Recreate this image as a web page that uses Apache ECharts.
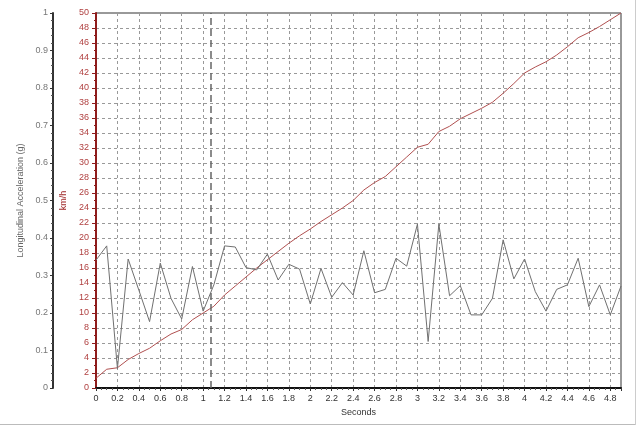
<!DOCTYPE html>
<html>
<head>
<meta charset="utf-8">
<script src="https://cdn.jsdelivr.net/npm/echarts@6/dist/echarts.min.js"></script>
<style>html,body{margin:0;padding:0;background:#fff}#c{width:640px;height:426px}</style>
</head>
<body>
<div id="c"></div>
<script>
var times = [0,0.1,0.2,0.3,0.4,0.5,0.6,0.7,0.8,0.9,1.0,1.1,1.2,1.3,1.4,1.5,1.6,1.7,1.8,1.9,2.0,2.1,2.2,2.3,2.4,2.5,2.6,2.7,2.8,2.9,3.0,3.1,3.2,3.3,3.4,3.5,3.6,3.7,3.8,3.9,4.0,4.1,4.2,4.3,4.4,4.5,4.6,4.7,4.8,4.9];
var accelG = [0.341,0.379,0.052,0.344,0.261,0.177,0.333,0.239,0.184,0.324,
              0.205,0.275,0.379,0.376,0.321,0.315,0.357,0.288,0.330,0.317,
              0.224,0.319,0.242,0.281,0.248,0.366,0.254,0.263,0.346,0.325,
              0.437,0.124,0.437,0.246,0.273,0.195,0.195,0.239,0.395,0.291,
              0.344,0.257,0.205,0.263,0.275,0.346,0.217,0.275,0.195,0.272];
var speedKmh = [1.3,2.5,2.7,3.8,4.6,5.3,6.3,7.2,7.8,9.1,
                10.0,10.9,12.4,13.6,14.8,16.0,17.1,18.2,19.3,20.3,
                21.2,22.2,23.1,24.0,25.0,26.4,27.4,28.2,29.5,30.8,
                32.1,32.5,34.2,34.9,35.9,36.6,37.3,38.1,39.3,40.6,
                42.0,42.8,43.5,44.4,45.5,46.7,47.4,48.2,49.1,50.0];
var markerTime = [1.07];

var font = 'Liberation Sans';
var chart = echarts.init(document.getElementById('c'), null, {renderer: 'canvas'});
chart.setOption({
  animation: false,
  backgroundColor: '#fff',
  textStyle: {fontFamily: font},
  grid: {left: 96, top: 13, right: 19, bottom: 38, show: true, borderColor: '#333', borderWidth: 1, backgroundColor: 'transparent'},
  graphic: [
    {type: 'line', shape: {x1: 0, y1: 424.5, x2: 636, y2: 424.5}, style: {stroke: '#bbb', lineWidth: 1}, silent: true},
    {type: 'line', shape: {x1: 635.5, y1: 0, x2: 635.5, y2: 425}, style: {stroke: '#ccc', lineWidth: 1}, silent: true}
  ],
  xAxis: {
    type: 'value', min: 0, max: 4.9, interval: 0.2,
    name: 'Seconds', nameLocation: 'middle', nameGap: 17,
    nameTextStyle: {color: '#333', fontSize: 9, fontFamily: font},
    axisLine: {show: true, onZero: false, lineStyle: {color: '#111', width: 2}},
    axisTick: {show: true, length: 3, lineStyle: {color: '#333'}},
    minorTick: {show: true, splitNumber: 4, length: 2, lineStyle: {color: '#555'}},
    axisLabel: {color: '#333', fontSize: 9, margin: 6, fontFamily: font, showMaxLabel: false,
      formatter: function (v) { var r = Math.round(v * 10) / 10; return (Math.round(r * 10) % 2 === 0) ? String(r) : ''; }},
    splitLine: {show: true, lineStyle: {color: '#999', type: [3, 3], width: 1}}
  },
  yAxis: [
    {
      type: 'value', min: 0, max: 50, interval: 2, position: 'left',
      name: 'km/h', nameLocation: 'middle', nameGap: 17,
      nameTextStyle: {color: '#a02828', fontSize: 9, fontFamily: font},
      axisLine: {show: true, lineStyle: {color: '#8e1c1c', width: 2}},
      axisTick: {show: true, length: 4, lineStyle: {color: '#8e1c1c'}},
      minorTick: {show: true, splitNumber: 2, length: 2, lineStyle: {color: '#8e1c1c'}},
      axisLabel: {color: '#b04040', fontSize: 9, margin: 7, fontFamily: font},
      splitLine: {show: true, lineStyle: {color: '#999', type: [3, 3], width: 1}}
    },
    {
      type: 'value', min: 0, max: 1, interval: 0.1, position: 'left', offset: 43,
      name: 'Longitudinal Acceleration (g)', nameLocation: 'middle', nameGap: 19,
      nameTextStyle: {color: '#666', fontSize: 9, fontFamily: font},
      axisLine: {show: true, lineStyle: {color: '#333', width: 2}},
      axisTick: {show: true, length: 3, lineStyle: {color: '#333'}},
      minorTick: {show: true, splitNumber: 5, length: 2, lineStyle: {color: '#555'}},
      axisLabel: {color: '#777', fontSize: 9, margin: 5, fontFamily: font},
      splitLine: {show: false}
    }
  ],
  series: [
    {
      name: 'Speed', type: 'line', yAxisIndex: 0, symbol: 'none',
      lineStyle: {color: '#b05050', width: 1},
      data: times.map(function (t, i) { return [t, speedKmh[i]]; }),
      z: 3
    },
    {
      name: 'Accel', type: 'line', yAxisIndex: 1, symbol: 'none',
      lineStyle: {color: '#707070', width: 1},
      data: times.map(function (t, i) { return [t, accelG[i]]; }),
      markLine: {
        silent: true, symbol: 'none', label: {show: false},
        lineStyle: {color: '#666', type: [7, 4], width: 1.5},
        data: markerTime.map(function (t) { return {xAxis: t}; })
      },
      z: 4
    }
  ]
});
</script>
</body>
</html>
